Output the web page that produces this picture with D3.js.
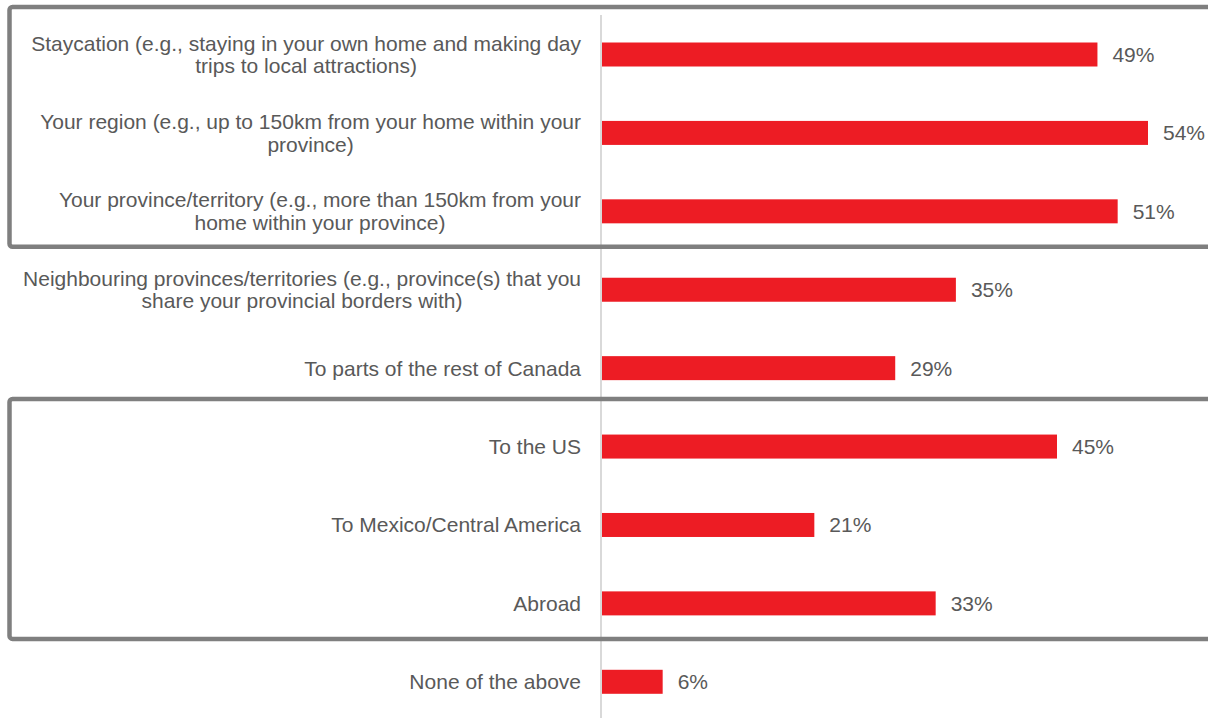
<!DOCTYPE html>
<html><head><meta charset="utf-8">
<script src="https://cdn.jsdelivr.net/npm/d3@7"></script>
<style>
html,body{margin:0;padding:0;background:#fff;}
svg{display:block;font-family:"Liberation Sans",Arial,sans-serif;}
</style></head>
<body>
<svg id="chart" width="1208" height="718"></svg>
<script>
const categories = [
  ["Staycation (e.g., staying in your own home and making day", "trips to local attractions)"],
  ["Your region (e.g., up to 150km from your home within your", "province)"],
  ["Your province/territory (e.g., more than 150km from your", "home within your province)"],
  ["Neighbouring provinces/territories (e.g., province(s) that you", "share your provincial borders with)"],
  ["To parts of the rest of Canada"],
  ["To the US"],
  ["To Mexico/Central America"],
  ["Abroad"],
  ["None of the above"]
];
const values = [49, 54, 51, 35, 29, 45, 21, 33, 6];
const valueLabels = ["49%", "54%", "51%", "35%", "29%", "45%", "21%", "33%", "6%"];
const boxGroups = [[0, 2], [5, 7]];

const svg = d3.select("#chart");
const W = 1208, H = 718;
const x0 = 602;
const x = d3.scaleLinear().domain([0, 54]).range([x0, 1148]);
const y = d3.scaleBand().domain(d3.range(categories.length)).range([15.3, 721]).padding(0);
const barH = 24;
const textColor = "#595959";
const fs = 21;

// axis line
svg.append("line")
  .attr("x1", x(0) - 1).attr("x2", x(0) - 1)
  .attr("y1", 15).attr("y2", H)
  .attr("stroke", "#d9d9d9").attr("stroke-width", 2);

// bars
svg.selectAll("rect.bar").data(values).join("rect")
  .attr("class", "bar")
  .attr("x", x(0))
  .attr("y", (d, i) => y(i) + y.bandwidth() / 2 - barH / 2)
  .attr("width", d => x(d) - x(0))
  .attr("height", barH)
  .attr("fill", "#ed1c24");

// value labels
svg.selectAll("text.val").data(values).join("text")
  .attr("class", "val")
  .attr("x", d => x(d) + 15)
  .attr("y", (d, i) => y(i) + y.bandwidth() / 2)
  .attr("dy", "0.35em")
  .attr("font-size", fs)
  .attr("fill", textColor)
  .text((d, i) => valueLabels[i]);

// category labels
const rightEdge = 581;
const lh = 22.5;
categories.forEach((lines, i) => {
  const cy = y(i) + y.bandwidth() / 2;
  const g = svg.append("g");
  const texts = lines.map((ln, j) => g.append("text")
    .attr("font-size", fs)
    .attr("fill", textColor)
    .attr("y", cy + (j - (lines.length - 1) / 2) * lh)
    .attr("dy", "0.35em")
    .text(ln));
  const maxW = d3.max(texts, t => t.node().getComputedTextLength());
  const cx = rightEdge - maxW / 2;
  texts.forEach(t => t.attr("x", cx).attr("text-anchor", "middle"));
});

// boxes
boxGroups.forEach(([a, b]) => {
  const top = y(a) + y.bandwidth() / 2 - 47.5;
  const bot = y(b) + y.bandwidth() / 2 + 35.5;
  svg.append("rect")
    .attr("x", 9.5).attr("y", top)
    .attr("width", W + 20).attr("height", bot - top)
    .attr("rx", 3)
    .attr("fill", "none")
    .attr("stroke", "#7f7f7f")
    .attr("stroke-width", 4.5);
});
</script>
</body></html>
